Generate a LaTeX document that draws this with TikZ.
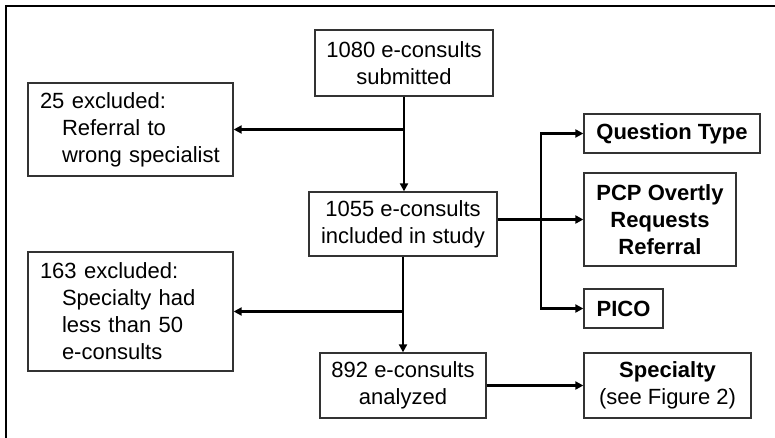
\documentclass[tikz,border=0pt]{standalone}
\usepackage{fontspec}
\setmainfont{Liberation Sans}
\usetikzlibrary{arrows.meta}
\begin{document}
\begin{tikzpicture}[x=1pt,y=-1pt,
  box/.style={draw=black!80, line width=1.3pt, inner sep=0pt, align=center,
    font=\fontsize{22}{27}\selectfont},
  lbox/.style={box, align=left, inner xsep=12pt},
  arr/.style={line width=2.2pt, line join=miter, -{Triangle[length=8pt,width=8pt]}}]
\useasboundingbox (0,0) rectangle (775,438);
\draw[line width=2.5pt] (6,450) -- (6,6) -- (790,6);
% main column
\node[box, minimum width=178pt, minimum height=66pt] (n1080) at (404,63) {1080 e-consults\\submitted};
\node[box, minimum width=188pt, minimum height=64pt] (n1055) at (403,224) {1055 e-consults\\included in study};
\node[box, minimum width=166pt, minimum height=65pt] (n892) at (403,385.5) {892 e-consults\\analyzed};
% exclusions
\node[lbox, text width=181pt, minimum height=93pt] (ex25) at (130.5,129.5)
  {25 excluded:\\\hspace*{22pt}Referral to\\\hspace*{22pt}wrong specialist};
\node[lbox, text width=181pt, minimum height=119pt] (ex163) at (130.5,311.5)
  {163 excluded:\\\hspace*{22pt}Specialty had\\\hspace*{22pt}less than 50\\\hspace*{22pt}e-consults};
% outcomes
\node[box, minimum width=176pt, minimum height=39pt, font=\fontsize{22}{27}\selectfont\bfseries] (qt) at (672,133.5) {Question Type};
\node[box, minimum width=152pt, minimum height=93pt, font=\fontsize{22}{27}\selectfont\bfseries] (pcp) at (660,219.5) {PCP Overtly\\Requests\\Referral};
\node[box, minimum width=79pt, minimum height=39pt, font=\fontsize{22}{27}\selectfont\bfseries] (pico) at (623.5,308.5) {PICO};
\node[box, minimum width=167pt, minimum height=65pt] (spec) at (667.5,385.5) {\textbf{Specialty}\\(see Figure 2)};
% connectors
\coordinate (br) at (541,0);
\draw[arr] (n1080.south) -- (n1080.south |- n1055.north);
\draw[arr] (n1080.south |- ex25.east) -- (ex25.east);
\draw[arr] (n1055.south) -- (n1055.south |- n892.north);
\draw[arr] (n1055.south |- ex163.east) -- (ex163.east);
\draw[arr] (n1055.east |- pcp.west) -- (pcp.west);
\draw[arr] (br |- pcp.west) -- (br |- qt.west) -- (qt.west);
\draw[arr] (br |- pcp.west) -- (br |- pico.west) -- (pico.west);
\draw[arr] (n892.east |- spec.west) -- (spec.west);
\end{tikzpicture}
\end{document}
